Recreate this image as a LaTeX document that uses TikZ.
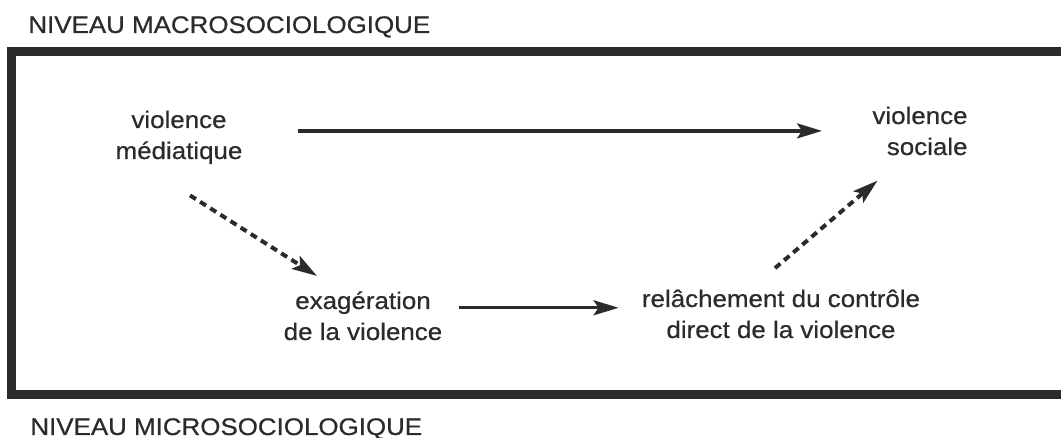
\documentclass[tikz,border=0pt]{standalone}
\usepackage{fontspec}
\setmainfont{Liberation Sans}[FakeStretch=1.08,FakeBold=0.6]
\usetikzlibrary{arrows.meta,calc}
\usepackage{xcolor}
\definecolor{ink}{gray}{0.17}

\begin{document}
\begin{tikzpicture}[x=0.5pt,y=-0.5pt,
    lbl/.style={inner sep=0pt, align=center, anchor=base, text=ink, font=\fontsize{12}{15.5}\selectfont},
    niveau/.style={inner sep=0pt, anchor=base west, text=ink, font=\fontsize{12}{14}\selectfont},
    fleche/.style={draw=ink, line width=1.7pt, -{Stealth[length=12.5pt,width=7.5pt,inset=2.5pt]}},
    pointille/.style={fleche, line width=2pt, dash pattern=on 3.5pt off 2.5pt}]
        \useasboundingbox (0,0) rectangle (1061,438);
        \clip (0,0) rectangle (1061,438);

        \node[niveau] (macro) at (28,33) {NIVEAU MACROSOCIOLOGIQUE};
        \node[niveau] (micro) at (30,435) {NIVEAU MICROSOCIOLOGIQUE};

        \draw[draw=ink, line width=4.5pt] (1100,52) -- (11,52) -- (11,395) -- (1100,395);

        \node[lbl] (media) at (179,159) {violence\\médiatique};
        \node[lbl, align=right] (sociale) at (920,155) {violence\\sociale};
        \node[lbl] (exag) at (363,340) {exagération\\de la violence};
        \node[lbl] (relach) at (781,338) {relâchement du contrôle\\direct de la violence};

        \draw[fleche, shorten <=27.5pt, shorten >=25pt] (media.east |- sociale.west) -- (sociale.west);
        \draw[fleche, shorten <=8pt, shorten >=11.5pt] ([yshift=4pt]exag.east) -- ([yshift=4pt]exag.east -| relach.west);

        \draw[pointille] ($(media.south)+(11,31)$) -- ($(exag.north)+(-46,-15)$);
        \draw[pointille] ($(relach.north)+(-6,-21)$) -- ($(sociale.south)+(-42.5,25)$);
\end{tikzpicture}
\end{document}
